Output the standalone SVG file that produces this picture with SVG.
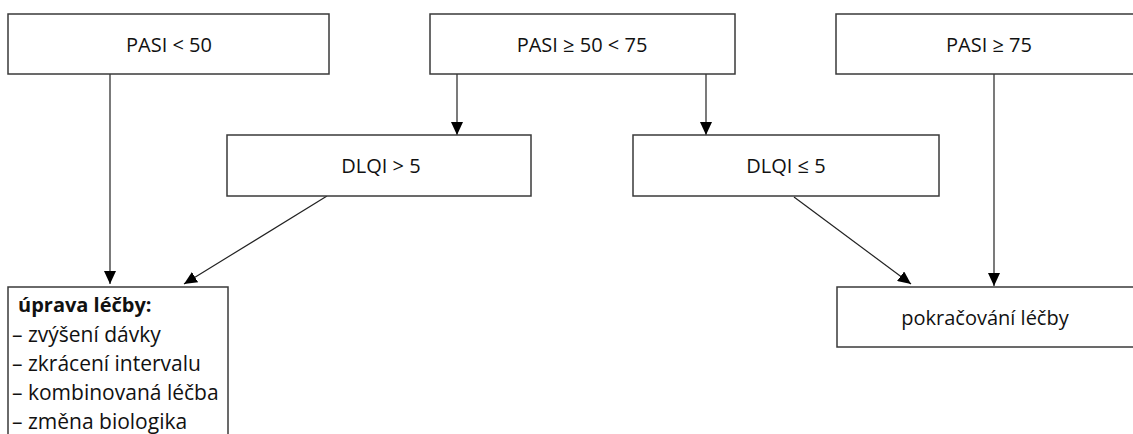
<svg xmlns="http://www.w3.org/2000/svg" width="1133" height="434" viewBox="0 0 1133 434">
<style>
.box{fill:#fff;stroke:#3a3a3a;stroke-width:1.5}
.lbl{font-family:"Open Sans","Noto Sans",sans-serif;font-size:20px;fill:#111;text-anchor:middle}
.lst{font-family:"Open Sans","Noto Sans",sans-serif;font-size:21px;fill:#111}
.b{font-weight:bold;font-size:20px}
.con{stroke:#222;stroke-width:1.2;fill:none;marker-end:url(#ah)}
</style>
<defs>
<marker id="ah" markerUnits="userSpaceOnUse" markerWidth="13" markerHeight="12" refX="13" refY="6" orient="auto">
<path d="M0,0 L13,6 L0,12 z" fill="#000"/>
</marker>
</defs>
<rect width="1133" height="434" fill="#fff"/>
<g id="connectors">
<line class="con" x1="110" y1="74" x2="110" y2="284"/>
<line class="con" x1="457" y1="74" x2="457" y2="135"/>
<line class="con" x1="706" y1="74" x2="706" y2="135"/>
<line class="con" x1="994" y1="74" x2="994" y2="286"/>
<line class="con" x1="327" y1="196" x2="184" y2="284"/>
<line class="con" x1="794" y1="197" x2="911" y2="284"/>
</g>
<g id="pasi-lt-50">
<rect class="box" x="8" y="14" width="321" height="60"/>
<text class="lbl" x="169" y="52">PASI &lt; 50</text>
</g>
<g id="pasi-50-75">
<rect class="box" x="430" y="14" width="305" height="60"/>
<text class="lbl" x="582" y="52">PASI ≥ 50 &lt; 75</text>
</g>
<g id="pasi-ge-75">
<rect class="box" x="836" y="14" width="310" height="60"/>
<text class="lbl" x="989" y="52">PASI ≥ 75</text>
</g>
<g id="dlqi-gt-5">
<rect class="box" x="227" y="135" width="304" height="61"/>
<text class="lbl" x="381" y="173">DLQI &gt; 5</text>
</g>
<g id="dlqi-le-5">
<rect class="box" x="633" y="135" width="306" height="61"/>
<text class="lbl" x="786" y="173">DLQI ≤ 5</text>
</g>
<g id="uprava">
<rect class="box" x="8" y="287" width="220" height="170"/>
<text class="lst b" x="18" y="312">úprava léčby:</text>
<text class="lst" x="12" y="342">– zvýšení dávky</text>
<text class="lst" x="12" y="371">– zkrácení intervalu</text>
<text class="lst" x="12" y="400">– kombinovaná léčba</text>
<text class="lst" x="12" y="429">– změna biologika</text>
</g>
<g id="pokracovani">
<rect class="box" x="837" y="287" width="310" height="60"/>
<text class="lbl" x="985" y="325">pokračování léčby</text>
</g>
</svg>
